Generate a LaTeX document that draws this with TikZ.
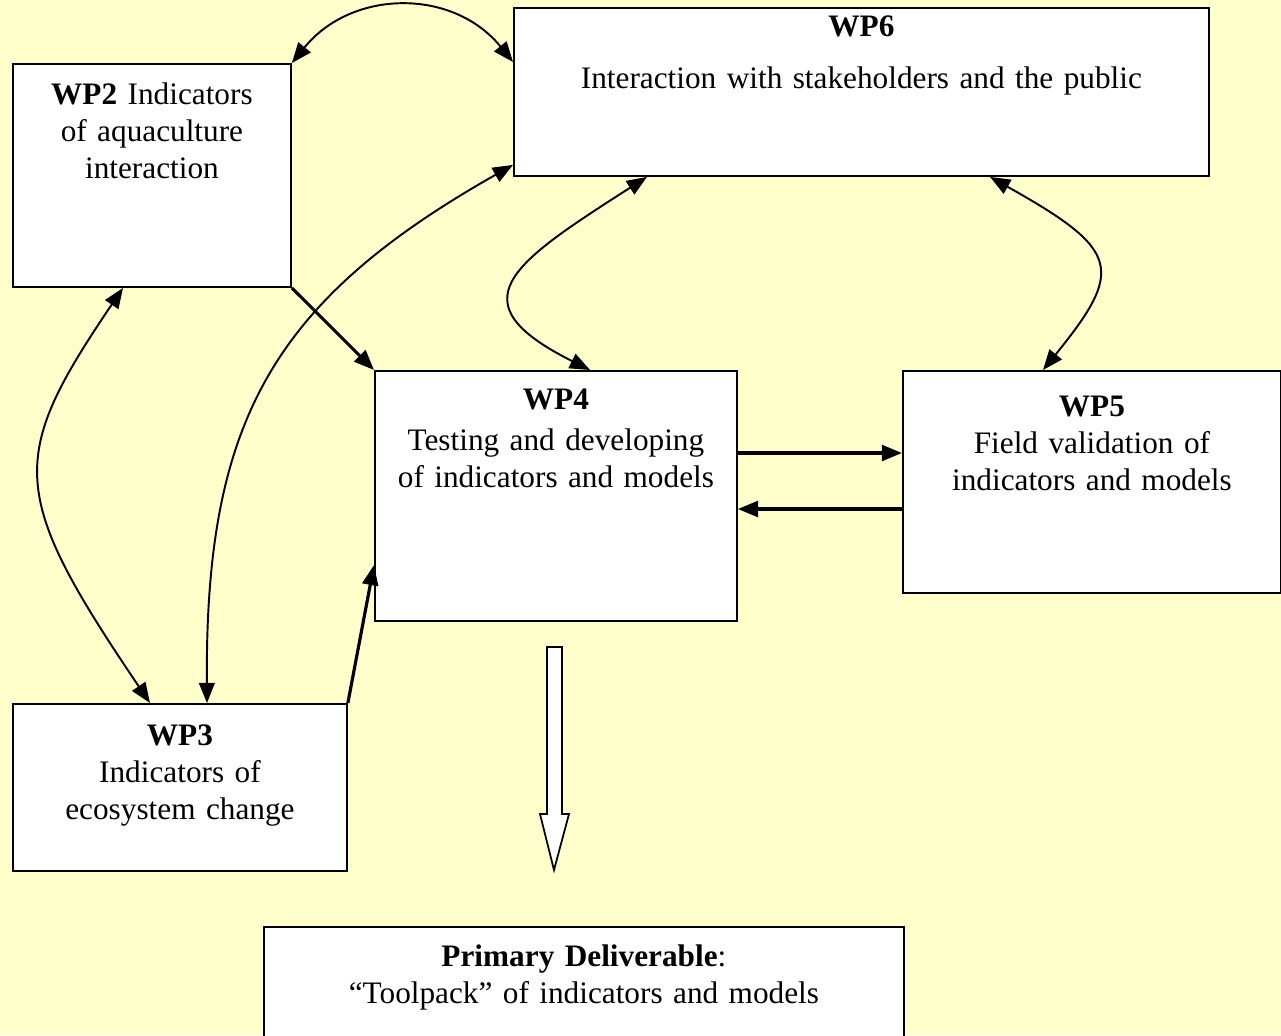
\documentclass[tikz,border=0pt]{standalone}
\usepackage{fontspec}
\setmainfont{Liberation Serif}
\usetikzlibrary{arrows.meta,calc}
\definecolor{paleyellow}{HTML}{FFFFCC}

\begin{document}
\begin{tikzpicture}[
                    x=0.02cm, y=-0.02cm,
                    >={Triangle[length=11.5pt,width=9pt]},
                    wpbox/.style={
                        draw,
                        fill=white,
                        line width=1.1pt,
                        anchor=north west,
                        inner sep=0pt,
                        align=center,
                        font=\fontsize{17.8}{21}\selectfont
                    },
                    link/.style={<->, line width=1.1pt},
                    flow/.style={->, line width=1.8pt}
                ]

                    \useasboundingbox (0,0) rectangle (1281,1035);
                    \fill[paleyellow] (0,0) rectangle (1281,1035);
                    \clip (0,0) rectangle (1281,1035);

                    \node[wpbox, text width=5.56cm, text height=0.82cm, text depth=3.64cm] (wp2) at (12,63) {\textbf{WP2} Indicators\\of aquaculture\\interaction};
                    \node[wpbox, text width=13.9cm, text height=0.58cm, text depth=2.78cm] (wp6) at (513,7) {\textbf{WP6}\\[8.5pt]Interaction with stakeholders and the public};
                    \node[wpbox, text width=7.24cm, text height=0.78cm, text depth=4.22cm] (wp4) at (374,370) {\textbf{WP4}\\[2pt]Testing and developing\\of indicators and models};
                    \node[wpbox, text width=7.56cm, text height=0.92cm, text depth=3.52cm] (wp5) at (902,370) {\textbf{WP5}\\Field validation of\\indicators and models};
                    \node[wpbox, text width=6.68cm, text height=0.84cm, text depth=2.5cm] (wp3) at (12,703) {\textbf{WP3}\\Indicators of\\ecosystem change};
                    \node[wpbox, text width=12.8cm, text height=0.8cm, text depth=1.6cm] (deliv) at (263,926) {\textbf{Primary Deliverable}:\\“Toolpack” of indicators and models};

                    % Links to WP6 and between WPs
                    \draw[link] (wp2.north east) .. controls +(60,-74) and +(-60,-74) .. ($(wp6.north west)+(0,55)$);
                    \draw[link] ($(wp2.south west)+(111,0)$) .. controls +(-115,170) and +(-142,-210) .. ($(wp3.north west)+(138,0)$);
                    \draw[link] ($(wp6.south west)+(0,-12)$) .. controls +(-242,137) and +(-2,-280) .. ($(wp3.north west)+(195,0)$);
                    \draw[link] ($(wp6.south west)+(134,0)$) .. controls +(-136,87) and +(-136,-68) .. ($(wp4.north west)+(216,0)$);
                    \draw[link] ($(wp6.south west)+(477,0)$) .. controls +(130,73) and +(82,-101) .. ($(wp5.north west)+(141,0)$);

                    % Flows into WP4
                    \draw[flow] (wp2.south east) -- (wp4.north west);
                    \draw[flow] (wp3.north east) -- ($(wp4.north west)+(0,195)$);
                    \draw[flow] ($(wp4.north east)+(0,83)$) -- ($(wp5.north west)+(0,83)$);
                    \draw[flow] ($(wp5.north west)+(0,139)$) -- ($(wp4.north east)+(0,139)$);

                    % Block arrow to the deliverable
                    \draw[line width=1pt, fill=white] (547,647) -- (562,647) -- (562,814) -- (569,814) -- (554,870) -- (540,814) -- (547,814) -- cycle;
                \end{tikzpicture}
\end{document}
